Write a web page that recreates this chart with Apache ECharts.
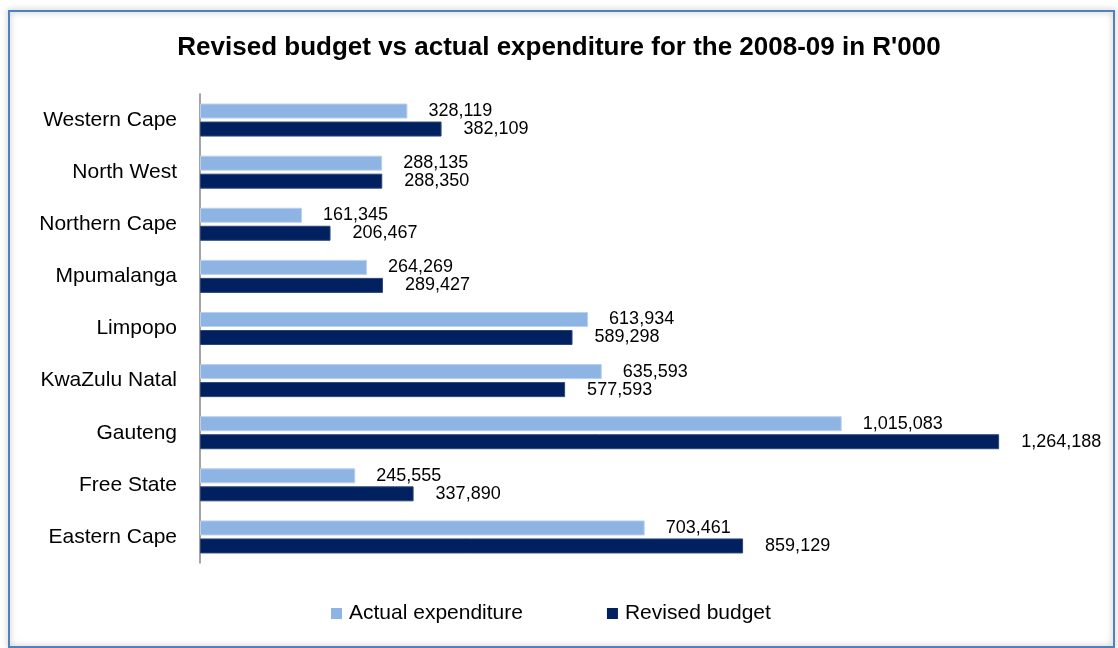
<!DOCTYPE html>
<html>
<head>
<meta charset="utf-8">
<title>Revised budget vs actual expenditure 2008-09</title>
<script src="https://cdn.jsdelivr.net/npm/echarts@6/dist/echarts.min.js"></script>
<style>
  html, body { margin: 0; padding: 0; background: #ffffff; }
  #chart { width: 1118px; height: 648px; }
</style>
</head>
<body>
<div id="chart"></div>
<script>
// Provinces listed bottom-to-top along the category axis
const provinces = [
  'Eastern Cape', 'Free State', 'Gauteng', 'KwaZulu Natal', 'Limpopo',
  'Mpumalanga', 'Northern Cape', 'North West', 'Western Cape'
];
// Values in R'000
const actualExpenditure = [703461, 245555, 1015083, 635593, 613934, 264269, 161345, 288135, 328119];
const revisedBudget = [859129, 337890, 1264188, 577593, 589298, 289427, 206467, 288350, 382109];

const FONT = "'Liberation Sans', Arial, sans-serif";
const fmt = v => Number(v).toLocaleString('en-US');

const chart = echarts.init(document.getElementById('chart'), null, { renderer: 'canvas' });

chart.setOption({
  backgroundColor: '#ffffff',
  animation: false,
  title: {
    text: "Revised budget vs actual expenditure for the 2008-09 in R'000",
    left: 'center',
    top: 30,
    textStyle: { fontFamily: FONT, fontSize: 26, fontWeight: 'bold', color: '#000000' }
  },
  legend: {
    data: ['Actual expenditure', 'Revised budget'],
    left: 331,
    top: 603,
    padding: 0,
    icon: 'rect',
    itemWidth: 11,
    itemHeight: 11,
    itemGap: 84,
    itemStyle: { borderWidth: 0 },
    textStyle: { fontFamily: FONT, fontSize: 21, color: '#000000', padding: [0, 0, 0, 2] }
  },
  graphic: [{
    type: 'rect',
    shape: { x: 9, y: 11, width: 1105, height: 636 },
    style: {
      fill: 'none',
      stroke: '#4F81BD',
      lineWidth: 2,
      shadowBlur: 6,
      shadowColor: 'rgba(0,0,0,0.35)'
    },
    z: 100
  }],
  grid: { left: 200, top: 94, width: 885, height: 469, containLabel: false },
  xAxis: {
    type: 'value',
    min: 0,
    max: 1400000,
    show: false
  },
  yAxis: {
    type: 'category',
    data: provinces,
    axisLine: { show: true, lineStyle: { color: '#868686', width: 1.5 } },
    axisTick: { show: false },
    splitLine: { show: false },
    axisLabel: { margin: 23, fontFamily: FONT, fontSize: 21, color: '#000000' }
  },
  series: [
    {
      name: 'Actual expenditure',
      type: 'bar',
      data: actualExpenditure,
      barWidth: 15,
      barGap: '20%',
      itemStyle: { color: '#8EB4E3', borderColor: '#B9D0EE', borderWidth: 1 },
      label: {
        show: true,
        position: 'right',
        distance: 21,
        formatter: p => fmt(p.value),
        fontFamily: FONT,
        fontSize: 18,
        color: '#000000'
      }
    },
    {
      name: 'Revised budget',
      type: 'bar',
      data: revisedBudget,
      barWidth: 15,
      barGap: '20%',
      itemStyle: { color: '#002060', borderColor: '#2A4677', borderWidth: 1 },
      label: {
        show: true,
        position: 'right',
        distance: 22,
        formatter: p => fmt(p.value),
        fontFamily: FONT,
        fontSize: 18,
        color: '#000000'
      }
    }
  ]
});
</script>
</body>
</html>
